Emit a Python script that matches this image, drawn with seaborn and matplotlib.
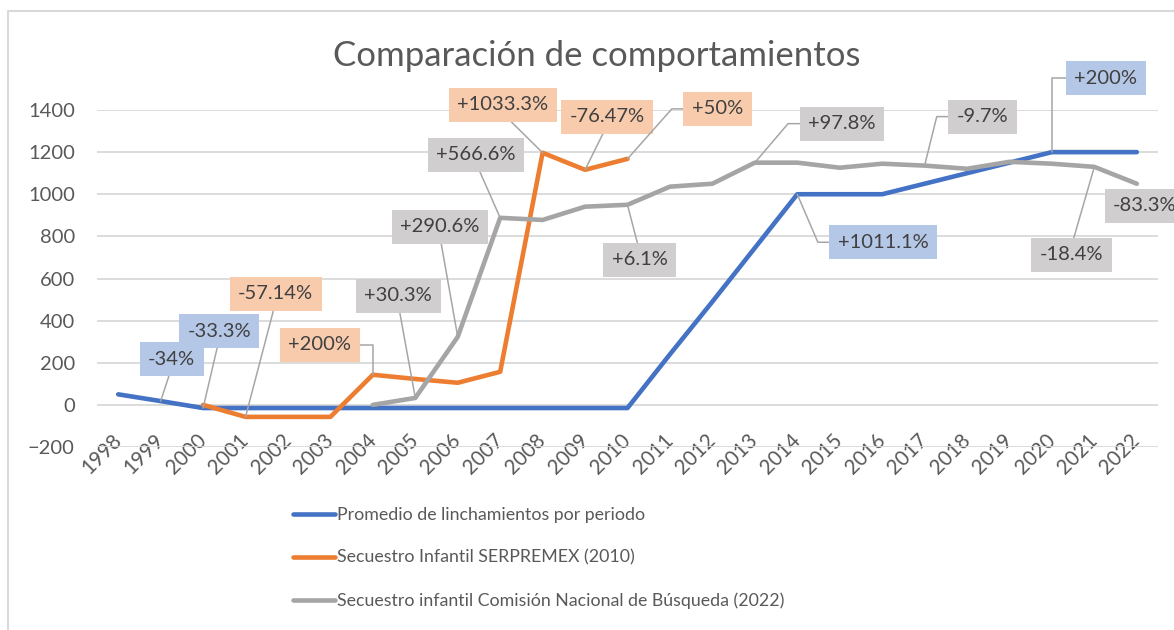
import matplotlib
matplotlib.use("Agg")
import matplotlib.pyplot as plt
import seaborn as sns
import pandas as pd
from matplotlib.lines import Line2D

# datos
years = list(range(1998, 2023))
linchamientos = [50, 18, -15, -15, -15, -15, -15, -15, -15, -15, -15, -15, -15,
                 240, 490, 745, 1000, 1000, 1000, 1050, 1100, 1150, 1200, 1200, 1200]
serpremex_years = list(range(2000, 2011))
serpremex = [0, -57, -57, -57, 143, 123, 105, 157, 1197, 1116, 1168]
cnb_years = list(range(2004, 2023))
cnb = [0, 33, 323, 888, 878, 941, 950, 1036, 1050, 1150, 1150, 1126, 1145,
       1136, 1121, 1154, 1145, 1130, 1050]

series = ["Promedio de linchamientos por periodo",
          "Secuestro Infantil SERPREMEX (2010)",
          "Secuestro infantil Comisión Nacional de Búsqueda (2022)"]
colores = ["#4472C4", "#ED7D31", "#A5A5A5"]
fondos = ["#B4C7E7", "#F8CBAD", "#D0CECE"]

# etiquetas de datos: (serie, año, texto)
etiquetas = [
    (0, 1999, "-34%"), (0, 2000, "-33.3%"), (0, 2014, "+1011.1%"), (0, 2020, "+200%"),
    (1, 2001, "-57.14%"), (1, 2004, "+200%"), (1, 2008, "+1033.3%"),
    (1, 2009, "-76.47%"), (1, 2010, "+50%"),
    (2, 2005, "+30.3%"), (2, 2006, "+290.6%"), (2, 2007, "+566.6%"), (2, 2010, "+6.1%"),
    (2, 2013, "+97.8%"), (2, 2017, "-9.7%"), (2, 2021, "-18.4%"), (2, 2022, "-83.3%"),
]
# colocacion de cada etiqueta (desplazamiento en px y tipo de guia)
colocacion = [
    ((11, 42), "bottom"), ((16, 77), "bottom"), ((86, -48), "elbow"), ((54, 74), "vert_l"),
    ((30, 123), "bottom"), ((-53, 30), "vert_r"), ((-40, 48), "bottom"),
    ((22, 53), "bottom"), ((90, 50), "elbow"),
    ((-17, 102), "bottom"), ((-18, 110), "bottom"), ((-24, 63), "bottom"), ((12, -55), "top"),
    ((87, 39), "elbow"), ((58, 49), "elbow"), ((-23, -88), "top"), ((8, -22), None),
]

df = pd.concat([
    pd.DataFrame({"año": years, "valor": linchamientos, "serie": series[0]}),
    pd.DataFrame({"año": serpremex_years, "valor": serpremex, "serie": series[1]}),
    pd.DataFrame({"año": cnb_years, "valor": cnb, "serie": series[2]}),
])
valores = {i: dict(zip(g["año"], g["valor"])) for i, (_, g) in
           enumerate(df.groupby("serie", sort=False))}

sns.set_theme(style="white")
plt.rcParams['font.family'] = ['Lato', 'DejaVu Sans']
gris_txt = "#595959"

fig = plt.figure(figsize=(11.74, 6.3), dpi=100)
ax = fig.add_axes([97 / 1174, 1 - 447 / 630, 1061 / 1174, 337 / 630])

sns.lineplot(data=df, x="año", y="valor", hue="serie", palette=colores,
             linewidth=3.3, estimator=None, errorbar=None, sort=False,
             legend=False, ax=ax)
for ln in ax.get_lines():
    ln.set_solid_capstyle("round")
    ln.set_solid_joinstyle("round")

ax.set_xlim(1997.5, 2022.5)
ax.set_ylim(-200, 1400)
ax.set_yticks(range(-200, 1401, 200))
ax.set_xticks(years)
ax.set_xticklabels([str(y) for y in years])
ax.grid(axis="y", color="#D9D9D9", linewidth=1.3)
ax.grid(axis="x", visible=False)
ax.set_axisbelow(True)
for s in ax.spines.values():
    s.set_visible(False)
ax.set_xlabel("")
ax.set_ylabel("")
ax.tick_params(axis="y", length=0, pad=16, labelsize=14.5, labelcolor=gris_txt)
ax.tick_params(axis="x", length=0, pad=-7, labelsize=14.8, labelcolor=gris_txt)
plt.setp(ax.get_xticklabels(), rotation=45, ha="right", va="center",
         rotation_mode="anchor")

for (serie, anio, texto), ((dx, dy), guia) in zip(etiquetas, colocacion):
    flecha = None
    if guia == "bottom":
        flecha = dict(arrowstyle="-", relpos=(0.5, 0))
    elif guia == "top":
        flecha = dict(arrowstyle="-", relpos=(0.5, 1))
    elif guia == "elbow":
        flecha = dict(arrowstyle="-", relpos=(0, 0.5),
                      connectionstyle="arc,angleA=180,angleB=0,armA=20,armB=0,rad=0")
    elif guia == "vert_l":
        flecha = dict(arrowstyle="-", relpos=(0, 0.5),
                      connectionstyle="angle,angleA=0,angleB=90,rad=0")
    elif guia == "vert_r":
        flecha = dict(arrowstyle="-", relpos=(1, 0.5),
                      connectionstyle="angle,angleA=0,angleB=90,rad=0")
    if flecha:
        flecha.update(color="#A6A6A6", lw=1.1, shrinkA=0, shrinkB=0)
    ax.annotate(texto, xy=(anio, valores[serie][anio]), xytext=(dx, dy),
                textcoords="offset pixels", ha="center", va="center",
                fontsize=14.5, color="#404040", zorder=6,
                bbox=dict(boxstyle="square,pad=0.42", fc=fondos[serie], ec="none"),
                arrowprops=flecha, annotation_clip=False)

fig.text(597 / 1174, 1 - 56 / 630, "Comparación de comportamientos",
         ha="center", va="center", fontsize=25, color=gris_txt)

handles = [Line2D([], [], color=c, lw=3.3, solid_capstyle="round") for c in colores]
fig.legend(handles, series, loc="upper left", bbox_to_anchor=(293 / 1174, 1 - 507 / 630),
           frameon=False, fontsize=12.8, labelcolor=gris_txt, handlelength=2.35,
           handletextpad=0.15, labelspacing=1.5, borderpad=0, borderaxespad=0)

# borde del area del grafico
fig.add_artist(Line2D([8 / 1174, 8 / 1174, 1.0], [0, 1 - 11 / 630, 1 - 11 / 630],
                      transform=fig.transFigure, color="#D9D9D9", lw=1.5))

fig.savefig("out.png", dpi=100)
